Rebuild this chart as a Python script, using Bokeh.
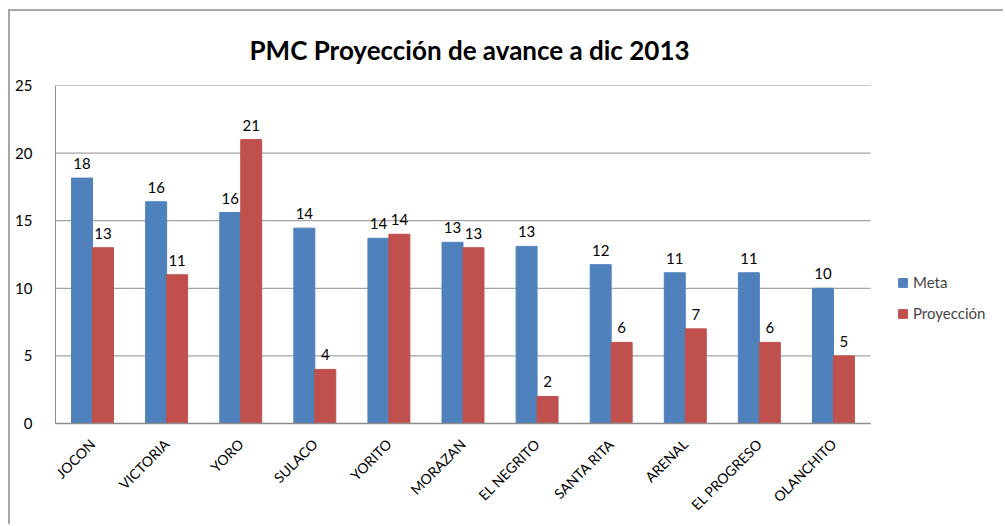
import math
from bokeh.plotting import figure
from bokeh.models import ColumnDataSource, Legend, LegendItem, FixedTicker
from bokeh.core.properties import value
from bokeh.embed import file_html
from bokeh.resources import INLINE

categories = ["JOCON", "VICTORIA", "YORO", "SULACO", "YORITO", "MORAZAN",
              "EL NEGRITO", "SANTA RITA", "ARENAL", "EL PROGRESO", "OLANCHITO"]
meta = [18.15, 16.4, 15.6, 14.45, 13.7, 13.4, 13.1, 11.75, 11.15, 11.15, 10.0]
proyeccion = [13, 11, 21, 4, 14, 13, 2, 6, 7, 6, 5]
y_ticks = [0, 5, 10, 15, 20, 25]

FONT = "Lato"
BLUE = "#4F81BD"
RED = "#C0504D"
GRID = "#8c8c8c"

n = len(categories)
bw = 0.283
centers = [i + 0.5 for i in range(n)]

src = ColumnDataSource(dict(
    xm=[c - bw / 2 for c in centers],
    xp=[c + bw / 2 for c in centers],
    meta=meta,
    proy=proyeccion,
    meta_lbl=[f"{v:.0f}" for v in meta],
    proy_lbl=[f"{v:.0f}" for v in proyeccion],
))

W, H = 995, 515
ML, MR, MT, MB = 45, 2, 74, 103
frame_w = W - ML - MR
x_end = frame_w * n / 815.0   # plot area of the categories is 815px wide

p = figure(x_range=(0, x_end), y_range=(0, 25), width=W, height=H,
           output_backend="svg", toolbar_location=None,
           min_border_left=ML, min_border_right=MR, min_border_top=MT,
           min_border_bottom=MB)

p.title.text = "PMC Proyección de avance a dic 2013"
p.title.align = "left"
p.title.offset = 194
p.title.text_font = FONT
p.title.text_font_size = "26px"
p.title.text_font_style = "bold"
p.title.text_color = "#000000"
p.title.vertical_align = "bottom"
p.title.standoff = 40

# horizontal gridlines limited to the category area
p.segment(x0=[0] * len(y_ticks), x1=[n] * len(y_ticks), y0=y_ticks, y1=y_ticks,
          line_color=GRID, line_width=1)

r1 = p.vbar(x="xm", top="meta", width=bw, source=src,
            fill_color=BLUE, line_color=BLUE)
r2 = p.vbar(x="xp", top="proy", width=bw, source=src,
            fill_color=RED, line_color=RED)

p.text(x="xm", y="meta", text="meta_lbl", source=src, text_align="center",
       text_baseline="bottom", y_offset=-9, text_font=value(FONT),
       text_font_size="15px", text_color="#000000")
p.text(x="xp", y="proy", text="proy_lbl", source=src, text_align="center",
       text_baseline="bottom", y_offset=-9, text_font=value(FONT),
       text_font_size="15px", text_color="#000000")

p.yaxis.ticker = FixedTicker(ticks=y_ticks)
p.yaxis.major_tick_line_color = None
p.yaxis.minor_tick_line_color = None
p.yaxis.axis_line_color = GRID
p.yaxis.major_label_standoff = 17
p.yaxis.major_label_text_font = FONT
p.yaxis.major_label_text_font_size = "15px"
p.yaxis.major_label_text_color = "#000000"

p.xaxis.ticker = FixedTicker(ticks=centers)
p.xaxis.major_label_overrides = {c: name for c, name in zip(centers, categories)}
p.xaxis.bounds = (0, n)
p.xaxis.major_tick_line_color = None
p.xaxis.minor_tick_line_color = None
p.xaxis.axis_line_color = GRID
p.xaxis.axis_line_width = 1.5
p.xaxis.major_label_orientation = math.pi / 4
p.xaxis.major_label_standoff = 12
p.xaxis.major_label_text_font = FONT
p.xaxis.major_label_text_font_size = "14px"
p.xaxis.major_label_text_color = "#000000"

p.xgrid.grid_line_color = None
p.ygrid.grid_line_color = None
p.outline_line_color = None

legend = Legend(items=[LegendItem(label="Meta", renderers=[r1]),
                       LegendItem(label="Proyección", renderers=[r2])],
                location=(842, 101), orientation="vertical",
                glyph_width=11, glyph_height=11, label_standoff=5,
                spacing=13, padding=0, margin=0,
                label_text_font=FONT, label_text_font_size="15px",
                border_line_color=None, background_fill_alpha=0)
p.add_layout(legend, "center")

p.styles = {"border-top": "2px solid #a6a6a6", "border-left": "2px solid #a6a6a6",
            "margin-left": "8px", "margin-top": "9px"}

open("out.html", "w").write(file_html(p, INLINE))
